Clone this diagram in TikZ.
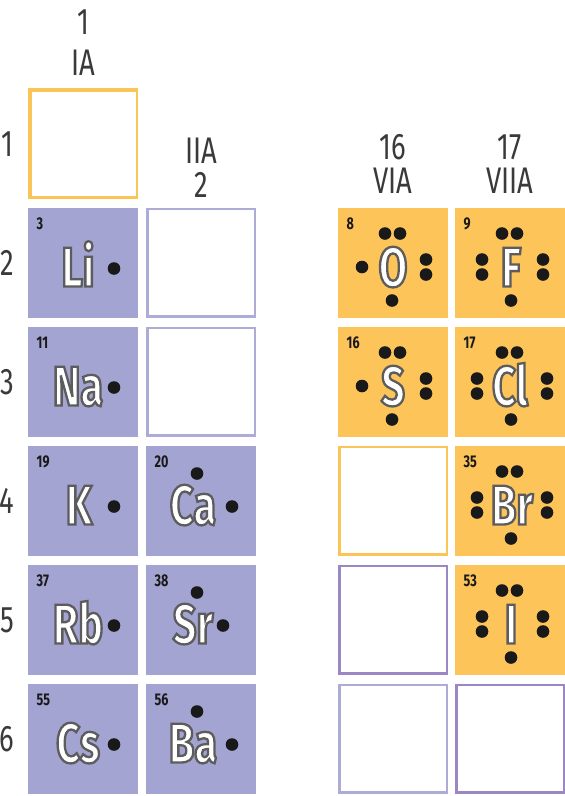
\documentclass[tikz,border=0pt]{standalone}
\usepackage{fontspec}
\setmainfont{Fira Sans}[FakeStretch=0.74]
\newfontfamily\symfont{Fira Sans}[FakeStretch=0.74]
\usetikzlibrary{positioning, calc}

\definecolor{alkfill}{RGB}{164,164,210}
\definecolor{halfill}{RGB}{253,196,90}
\definecolor{orangeline}{RGB}{250,196,86}
\definecolor{lightline}{RGB}{172,172,214}
\definecolor{darkline}{RGB}{155,135,195}
\definecolor{headgray}{RGB}{58,58,58}

% symbol with outlined letters (fill white, stroke grey)
\newcommand{\elsym}[1]{\special{pdf:code 2 Tr 2.3 w 0.36 0.36 0.36 RG}#1\special{pdf:code 0 Tr}}
% one electron dot, offset from the cell centre (dx right, dy down)
\newcommand{\edot}[3]{\fill[black!90] ($(#1)+(#2,-#3)$) circle[radius=6.3pt];}

\begin{document}
\begin{tikzpicture}[
    x=1pt, y=1pt,
    node distance=9pt and 8pt,
    cell/.style={rectangle, minimum size=110pt, inner sep=0pt, outer sep=0pt},
    alk/.style={cell, fill=alkfill},
    hal/.style={cell, fill=halfill},
    emptycell/.style={cell, fill=white, draw=#1, line width=2.5pt, minimum size=107.5pt, outer sep=1.25pt},
    sym/.style={font=\symfont\bfseries\fontsize{56}{56}\selectfont, text=white, inner sep=0pt, text height=38pt, text depth=0pt},
    anum/.style={font=\bfseries\fontsize{17}{17}\selectfont, text=black!90, inner sep=0pt},
    head/.style={font=\fontsize{37}{37}\selectfont, text=headgray, inner sep=0pt, text height=26pt, text depth=0pt}
]
\useasboundingbox (0,0) rectangle (565,-796);

% Column 1
\node[emptycell=orangeline] (eH) at (83,-143.5) {};
\node[alk, below=of eH] (cLi) {};
\node[alk, below=of cLi] (cNa) {};
\node[alk, below=of cNa] (cK) {};
\node[alk, below=of cK] (cRb) {};
\node[alk, below=of cRb] (cCs) {};
\draw[orangeline, line width=4pt] ([xshift=2pt]eH.south west) |- ([yshift=-1.5pt]eH.north east);

% Column 2
\node[emptycell=lightline, right=of cLi] (eBe) {};
\node[emptycell=lightline, right=of cNa] (eMg) {};
\node[alk, right=of cK] (cCa) {};
\node[alk, right=of cRb] (cSr) {};
\node[alk, right=of cCs] (cBa) {};

% Column 16
\node[hal, right=82pt of eBe] (cO) {};
\node[hal, below=of cO] (cS) {};
\node[emptycell=orangeline, below=of cS] (eSe) {};
\node[emptycell=darkline, below=of eSe] (eTe) {};
\node[emptycell=lightline, below=of eTe] (ePo) {};

% Column 17
\node[hal, right=7pt of cO] (cF) {};
\node[hal, below=of cF] (cCl) {};
\node[hal, below=of cCl] (cBr) {};
\node[hal, below=of cBr] (cI) {};
\node[emptycell=darkline, below=of cI] (eAt) {};

% Group headings
\node[head, above=13pt of eH] (gIA) {IA};
\node[head, above=14pt of gIA] (g1) {1};
\node[head, above=10pt of eBe] (g2) {2};
\node[head, above=7pt of g2] (gIIA) {IIA};
\node[head, above=14pt of cO] (gVIA) {VIA};
\node[head, above=7.5pt of gVIA] (g16) {16};
\node[head, above=14pt of cF] (gVIIA) {VIIA};
\node[head, above=7.5pt of gVIIA] (g17) {17};

% Period numbers
\node[head, left=14pt of eH] (p1) {1};
\node[head, left=14pt of cLi] (p2) {2};
\node[head, left=14pt of cNa] (p3) {3};
\node[head, left=14pt of cK] (p4) {4};
\node[head, left=14pt of cRb] (p5) {5};
\node[head, left=14pt of cCs] (p6) {6};

% Atomic numbers
\node[anum, below right=10pt and 8.5pt of cLi.north west] (nLi) {3};
\node[anum, below right=10pt and 8.5pt of cNa.north west] (nNa) {11};
\node[anum, below right=10pt and 8.5pt of cK.north west] (nK) {19};
\node[anum, below right=10pt and 8.5pt of cRb.north west] (nRb) {37};
\node[anum, below right=10pt and 8.5pt of cCs.north west] (nCs) {55};
\node[anum, below right=10pt and 8.5pt of cCa.north west] (nCa) {20};
\node[anum, below right=10pt and 8.5pt of cSr.north west] (nSr) {38};
\node[anum, below right=10pt and 8.5pt of cBa.north west] (nBa) {56};
\node[anum, below right=10pt and 8.5pt of cO.north west] (nO) {8};
\node[anum, below right=10pt and 8.5pt of cS.north west] (nS) {16};
\node[anum, below right=10pt and 8.5pt of cF.north west] (nF) {9};
\node[anum, below right=10pt and 8.5pt of cCl.north west] (nCl) {17};
\node[anum, below right=10pt and 8.5pt of cBr.north west] (nBr) {35};
\node[anum, below right=10pt and 8.5pt of cI.north west] (nI) {53};

% Group 1 symbols
\node[sym] (sLi) at ($(cLi)+(-5,-5)$) {\elsym{Li}};
\node[sym] (sNa) at ($(cNa)+(-5,-5)$) {\elsym{Na}};
\node[sym] (sK) at ($(cK)+(-4,-5)$) {\elsym{K}};
\node[sym] (sRb) at ($(cRb)+(-5,-5)$) {\elsym{Rb}};
\node[sym] (sCs) at ($(cCs)+(-5,-5)$) {\elsym{Cs}};
\edot{cLi}{31}{6}
\edot{cNa}{31}{6}
\edot{cK}{31}{6}
\edot{cRb}{31}{6}
\edot{cCs}{31}{6}

% Group 2 symbols
\node[sym] (sCa) at ($(cCa)+(-8,-5)$) {\elsym{Ca}};
\node[sym] (sSr) at ($(cSr)+(-8,-5)$) {\elsym{Sr}};
\node[sym] (sBa) at ($(cBa)+(-8,-5)$) {\elsym{Ba}};
\edot{cCa}{-4}{-27} \edot{cCa}{31}{6}
\edot{cSr}{-4}{-27} \edot{cSr}{22}{6}
\edot{cBa}{-4}{-27} \edot{cBa}{31}{6}

% Group 16 symbols
\node[sym] (sO) at ($(cO)+(0,-5)$) {\elsym{O}};
\node[sym] (sS) at ($(cS)+(0,-5)$) {\elsym{S}};
\foreach \c in {cO, cS} {
  \edot{\c}{-8}{-29} \edot{\c}{7}{-29}
  \edot{\c}{-31}{4.5}
  \edot{\c}{33}{-3} \edot{\c}{33}{12}
  \edot{\c}{-1}{38}
}

% Group 17 symbols
\node[sym] (sF) at ($(cF)+(1,-5)$) {\elsym{F}};
\node[sym] (sCl) at ($(cCl)+(0,-5)$) {\elsym{Cl}};
\node[sym] (sBr) at ($(cBr)+(2,-5)$) {\elsym{Br}};
\node[sym] (sI) at ($(cI)+(1,-5)$) {\elsym{I}};
\foreach \c/\l/\r in {cF/-28/33, cCl/-33/37, cBr/-33/37, cI/-28/33} {
  \edot{\c}{-8}{-29} \edot{\c}{7}{-29}
  \edot{\c}{\l}{-3} \edot{\c}{\l}{12}
  \edot{\c}{\r}{-3} \edot{\c}{\r}{12}
  \edot{\c}{1}{38}
}

\end{tikzpicture}
\end{document}
